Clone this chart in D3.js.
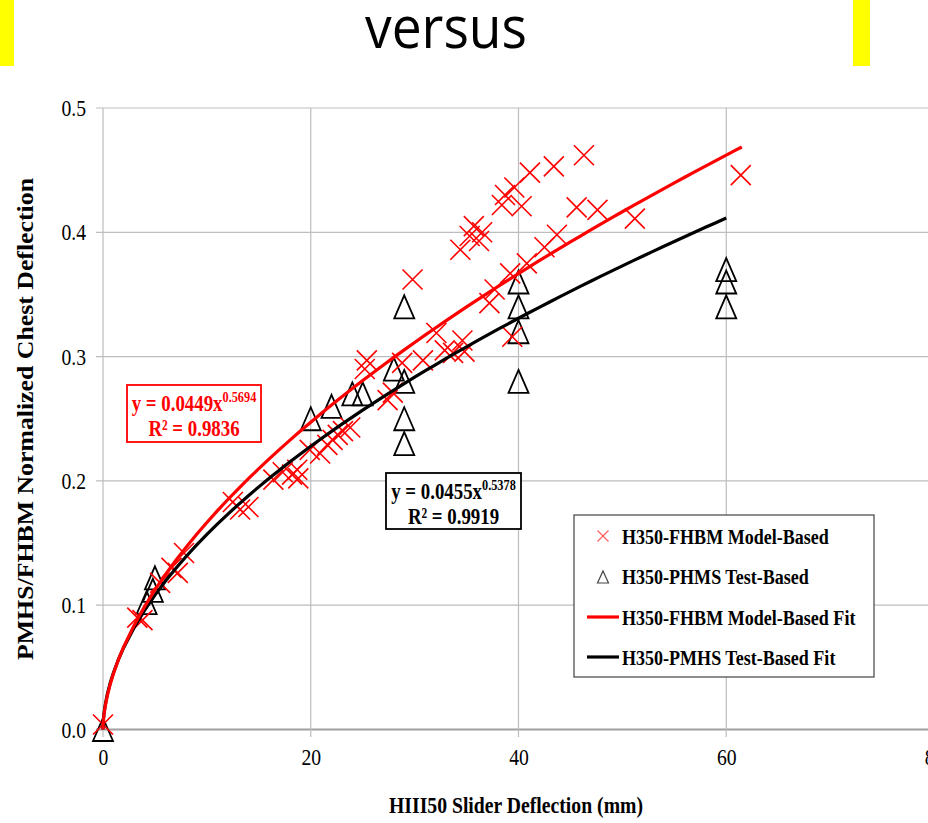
<!DOCTYPE html>
<html>
<head>
<meta charset="utf-8">
<script src="https://cdn.jsdelivr.net/npm/d3@7"></script>
<style>
  body { margin: 0; background: #fff; }
  svg { display: block; }
</style>
</head>
<body>
<div id="chart"></div>
<script>
// FHBM model-based points (x = slider deflection mm, y = normalized chest deflection)
var fhbmX = [0, 3.3, 3.8, 5.5, 6.6, 7.2, 7.8, 12.5, 13.2, 14.0, 16.4, 17.3, 18.2, 18.7, 18.8,
  19.9, 20.9, 21.6, 22.1, 22.6, 23.1, 23.8, 25.2, 25.4, 27.4, 27.9, 28.8, 29.8, 30.8, 32.1,
  32.9, 33.7, 34.6, 34.8, 34.4, 35.3, 35.7, 36.2, 36.5, 37.2, 37.7, 38.4, 38.7, 39.2, 39.4,
  39.6, 40.3, 40.8, 41.1, 42.5, 43.4, 43.7, 45.6, 46.3, 47.6, 51.2, 61.4];
var fhbmY = [0.004, 0.090, 0.088, 0.118, 0.130, 0.126, 0.142, 0.183, 0.177, 0.179, 0.201, 0.207, 0.205, 0.209, 0.202,
  0.225, 0.222, 0.229, 0.233, 0.237, 0.240, 0.243, 0.290, 0.297, 0.265, 0.271, 0.295, 0.362, 0.297, 0.319,
  0.305, 0.303, 0.313, 0.304, 0.386, 0.397, 0.405, 0.393, 0.400, 0.343, 0.354, 0.422, 0.430, 0.367, 0.316,
  0.436, 0.421, 0.375, 0.448, 0.388, 0.453, 0.398, 0.420, 0.462, 0.418, 0.411, 0.446];

// PMHS test-based points
var pmhsX = [0, 4.2, 4.8, 5.0, 20, 22, 24, 25, 28, 29, 29, 29, 29, 40, 40, 40, 40, 60, 60, 60];
var pmhsY = [0, 0.102, 0.112, 0.122, 0.25, 0.26, 0.27, 0.27, 0.29, 0.34, 0.28, 0.25, 0.23,
  0.36, 0.34, 0.32, 0.28, 0.37, 0.36, 0.34];

// power-law fits y = a * x^b
var fhbmFit = { a: 0.0449, b: 0.5694, xmax: 61.5 };
var pmhsFit = { a: 0.0455, b: 0.5378, xmax: 60 };

var xTicks = [0, 20, 40, 60, 80];
var yTicks = [0, 0.1, 0.2, 0.3, 0.4, 0.5];
var legendLabels = ['H350-FHBM Model-Based', 'H350-PHMS Test-Based', 'H350-FHBM Model-Based Fit', 'H350-PMHS Test-Based Fit'];

var width = 928, height = 823;
var svg = d3.select('#chart').append('svg').attr('width', width).attr('height', height);
var serif = "'Liberation Serif', 'DejaVu Serif', serif";
var squeeze = 'scale(0.82,1)';

// header strip
svg.append('rect').attr('x', 0).attr('y', 0).attr('width', 14).attr('height', 66).attr('fill', '#ffff00');
svg.append('rect').attr('x', 853).attr('y', 0).attr('width', 17).attr('height', 66).attr('fill', '#ffff00');
svg.append('text').attr('x', 446).attr('y', 48).attr('text-anchor', 'middle')
  .attr('font-family', "'Open Sans', 'Noto Sans', sans-serif").attr('font-size', 58)
  .attr('textLength', 162).attr('lengthAdjust', 'spacingAndGlyphs')
  .text('versus');

var xscale = d3.scaleLinear().domain([0, 80]).range([103, 934]);
var yscale = d3.scaleLinear().domain([0, 0.5]).range([729.5, 108]);

// grid
var grid = svg.append('g');
grid.selectAll('.hg').data(yTicks).enter().append('line')
  .attr('x1', 96).attr('x2', width)
  .attr('y1', d => yscale(d)).attr('y2', d => yscale(d))
  .attr('stroke', d => d === 0 ? '#a0a0a0' : '#bdbdbd')
  .attr('stroke-width', d => d === 0 ? 2 : 1.2);
grid.selectAll('.vg').data(xTicks).enter().append('line')
  .attr('x1', d => xscale(d)).attr('x2', d => xscale(d))
  .attr('y1', yscale(0.5)).attr('y2', 737)
  .attr('stroke', '#bdbdbd').attr('stroke-width', 1.2);

// axes (labels only, lines drawn as grid)
var xAxis = d3.axisBottom(xscale).tickValues(xTicks).tickSize(0).tickPadding(0).tickFormat(d3.format('d'));
var gx = svg.append('g').attr('transform', 'translate(0,748)').call(xAxis);
var yAxis = d3.axisLeft(yscale).tickValues(yTicks).tickSize(0).tickPadding(0).tickFormat(d3.format('.1f'));
var gy = svg.append('g').attr('transform', 'translate(86,0)').call(yAxis);
[gx, gy].forEach(function(g) {
  g.select('.domain').remove();
  g.selectAll('text').attr('font-family', serif).attr('font-size', 24).attr('fill', '#000')
    .attr('transform', squeeze);
});
gx.selectAll('text').attr('dy', '0.71em');

// fit curves
function fitPoints(f) {
  var xs = [0, 0.02, 0.05, 0.1, 0.2, 0.4, 0.7, 1, 1.5, 2, 3];
  for (var v = 4; v < f.xmax; v += 1) xs.push(v);
  xs.push(f.xmax);
  return xs.map(x => [x, f.a * Math.pow(x, f.b)]);
}
var line = d3.line().x(d => xscale(d[0])).y(d => yscale(d[1]));

// markers
var fhbm = fhbmX.map((x, i) => [x, fhbmY[i]]);
var pmhs = pmhsX.map((x, i) => [x, pmhsY[i]]);

function crossPath(r) {
  return 'M' + (-r) + ',' + (-r) + 'L' + r + ',' + r + 'M' + (-r) + ',' + r + 'L' + r + ',' + (-r);
}
function triPath(w, h) {
  return 'M0,' + (-h / 2) + 'L' + (w / 2) + ',' + (h / 2) + 'L' + (-w / 2) + ',' + (h / 2) + 'Z';
}

svg.append('g').selectAll('path').data(pmhs).enter().append('path')
  .attr('transform', d => 'translate(' + xscale(d[0]) + ',' + yscale(d[1]) + ')')
  .attr('d', triPath(20, 23)).attr('fill', 'none').attr('stroke', '#000').attr('stroke-width', 1.8);

svg.append('g').selectAll('path').data(fhbm).enter().append('path')
  .attr('transform', d => 'translate(' + xscale(d[0]) + ',' + yscale(d[1]) + ')')
  .attr('d', crossPath(10)).attr('fill', 'none').attr('stroke', '#ff0000').attr('stroke-width', 1.6);

svg.append('path').datum(fitPoints(pmhsFit)).attr('d', line)
  .attr('fill', 'none').attr('stroke', '#000').attr('stroke-width', 3.2);
svg.append('path').datum(fitPoints(fhbmFit)).attr('d', line)
  .attr('fill', 'none').attr('stroke', '#ff0000').attr('stroke-width', 3.2);

// equation boxes
function eqBox(x, y, w, h, color, coef, expo, r2) {
  var g = svg.append('g');
  g.append('rect').attr('x', x).attr('y', y).attr('width', w).attr('height', h)
    .attr('fill', '#fff').attr('stroke', color).attr('stroke-width', 1.8);
  var t1 = g.append('text').attr('transform', 'translate(' + (x + w / 2) + ',' + (y + 26) + ') ' + squeeze)
    .attr('text-anchor', 'middle')
    .attr('font-family', serif).attr('font-weight', 'bold').attr('font-size', 23).attr('fill', color);
  t1.append('tspan').text('y = ' + coef + 'x');
  t1.append('tspan').attr('dy', -9).attr('font-size', 15).text(expo);
  g.append('text').attr('transform', 'translate(' + (x + w / 2) + ',' + (y + 51) + ') ' + squeeze)
    .attr('text-anchor', 'middle')
    .attr('font-family', serif).attr('font-weight', 'bold').attr('font-size', 23).attr('fill', color)
    .text('R² = ' + r2);
}
eqBox(127, 385, 134, 57, '#ff0000', '0.0449', '0.5694', '0.9836');
eqBox(386, 473, 135, 56, '#000', '0.0455', '0.5378', '0.9919');

// legend
var lg = svg.append('g');
lg.append('rect').attr('x', 574).attr('y', 515).attr('width', 300).attr('height', 162)
  .attr('fill', '#fff').attr('stroke', '#444').attr('stroke-width', 1.2);
var rowY = [536, 576, 617, 657];
lg.append('path').attr('transform', 'translate(603,' + rowY[0] + ')').attr('d', crossPath(5.5))
  .attr('fill', 'none').attr('stroke', '#ff6060').attr('stroke-width', 1.2);
lg.append('path').attr('transform', 'translate(603,' + (rowY[1] + 1) + ')').attr('d', triPath(11, 12))
  .attr('fill', 'none').attr('stroke', '#444').attr('stroke-width', 1.2);
lg.append('line').attr('x1', 587).attr('x2', 619).attr('y1', rowY[2]).attr('y2', rowY[2])
  .attr('stroke', '#ff0000').attr('stroke-width', 3.2);
lg.append('line').attr('x1', 587).attr('x2', 619).attr('y1', rowY[3]).attr('y2', rowY[3])
  .attr('stroke', '#000').attr('stroke-width', 3.2);
lg.selectAll('.lt').data(legendLabels).enter().append('text')
  .attr('transform', (d, i) => 'translate(622,' + (rowY[i] + 8) + ') ' + squeeze)
  .attr('font-family', serif).attr('font-weight', 'bold').attr('font-size', 22)
  .text(d => d);

// axis titles
svg.append('text').attr('x', 516).attr('y', 813).attr('text-anchor', 'middle')
  .attr('font-family', serif).attr('font-weight', 'bold').attr('font-size', 24)
  .attr('textLength', 254).attr('lengthAdjust', 'spacingAndGlyphs')
  .text('HIII50 Slider Deflection (mm)');
svg.append('text').attr('transform', 'translate(33,419) rotate(-90)').attr('text-anchor', 'middle')
  .attr('font-family', serif).attr('font-weight', 'bold').attr('font-size', 23)
  .attr('textLength', 482).attr('lengthAdjust', 'spacingAndGlyphs')
  .text('PMHS/FHBM Normalized  Chest Deflection');
</script>
</body>
</html>
